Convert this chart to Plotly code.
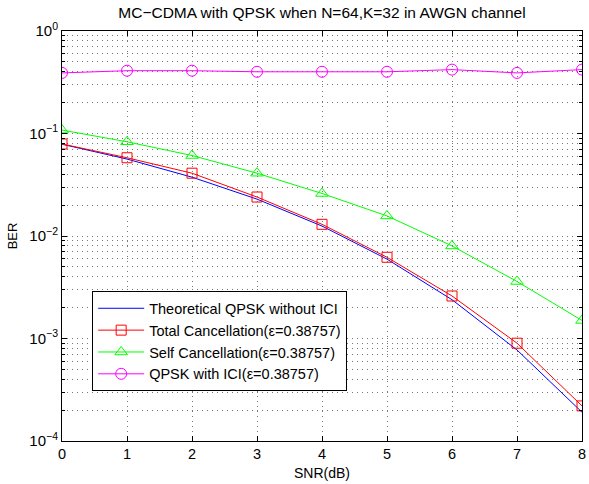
import plotly.graph_objects as go

snr = [0, 1, 2, 3, 4, 5, 6, 7, 8]
theory = [0.0786, 0.0563, 0.0375, 0.0229, 0.0125, 0.00595, 0.00239, 0.000773, 0.000191]
total_cancel = [0.079, 0.058, 0.041, 0.024, 0.013, 0.0062, 0.0026, 0.0009, 0.00022]
self_cancel = [0.108, 0.083, 0.061, 0.041, 0.026, 0.0157, 0.0080, 0.0036, 0.0015]
with_ici = [0.39, 0.41, 0.41, 0.40, 0.40, 0.40, 0.42, 0.39, 0.42]

y_tickvals = [1e-4, 1e-3, 1e-2, 1e-1, 1]
y_ticktext = ["10<sup>−4</sup>", "10<sup>−3</sup>", "10<sup>−2</sup>", "10<sup>−1</sup>", "10<sup>0</sup>"]

names = ["Theoretical QPSK without ICI", "Total Cancellation(ε=0.38757)",
         "Self Cancellation(ε=0.38757)", "QPSK with ICI(ε=0.38757)"]

fig = go.Figure()
fig.add_trace(go.Scatter(x=snr, y=theory, mode="lines", name=names[0],
                         line=dict(color="#0000ff", width=1)))
fig.add_trace(go.Scatter(x=snr, y=total_cancel, mode="lines+markers", name=names[1],
                         line=dict(color="#ff0000", width=1),
                         marker=dict(symbol="square-open", size=10, color="#ff0000", line=dict(width=1))))
fig.add_trace(go.Scatter(x=snr, y=self_cancel, mode="lines+markers", name=names[2],
                         line=dict(color="#00ff00", width=1),
                         marker=dict(symbol="triangle-up-open", size=11, color="#00ff00", line=dict(width=1))))
fig.add_trace(go.Scatter(x=snr, y=with_ici, mode="lines+markers", name=names[3],
                         line=dict(color="#ff00ff", width=1),
                         marker=dict(symbol="circle-open", size=11, color="#ff00ff", line=dict(width=1))))

font_family = "Liberation Sans, Arial, sans-serif"
grid_color = "#777777"
grid_dash = "1px,4px"
fig.update_layout(
    width=589, height=484,
    margin=dict(l=62, r=7, t=31, b=43, autoexpand=False),
    paper_bgcolor="white", plot_bgcolor="white",
    font=dict(family=font_family, size=13, color="black"),
    title=dict(text="MC−CDMA with QPSK when N=64,K=32 in AWGN channel",
               x=0.5, xref="paper", xanchor="center", y=0.975, yanchor="middle",
               font=dict(size=15.5)),
    showlegend=True,
    legend=dict(x=0.058, y=0.365, xanchor="left", yanchor="top",
                bgcolor="white", bordercolor="black", borderwidth=1,
                font=dict(size=14.5), tracegroupgap=0, itemwidth=46),
    xaxis=dict(range=[0, 8], tickvals=snr, automargin=False,
               showline=True, linecolor="black", linewidth=1, mirror="allticks",
               ticks="inside", ticklen=5, tickcolor="black",
               showgrid=True, gridcolor=grid_color, griddash=grid_dash, gridwidth=1,
               zeroline=False,
               title=dict(text="SNR(dB)", font=dict(size=14), standoff=6),
               tickfont=dict(size=14.5)),
    yaxis=dict(type="log", range=[-4, 0], tickvals=y_tickvals, ticktext=y_ticktext,
               automargin=False,
               showline=True, linecolor="black", linewidth=1, mirror="allticks",
               ticks="inside", ticklen=5, tickcolor="black",
               showgrid=True, gridcolor=grid_color, griddash=grid_dash, gridwidth=1,
               zeroline=False,
               minor=dict(dtick="D1", showgrid=True, gridcolor=grid_color, griddash=grid_dash,
                          ticks="inside", ticklen=3, tickcolor="black"),
               title=dict(text="BER", font=dict(size=13), standoff=8),
               tickfont=dict(size=15)),
)

fig.write_html("out.html", config={"displayModeBar": False},
               post_script="document.body.style.margin='0';document.body.style.padding='0';")
